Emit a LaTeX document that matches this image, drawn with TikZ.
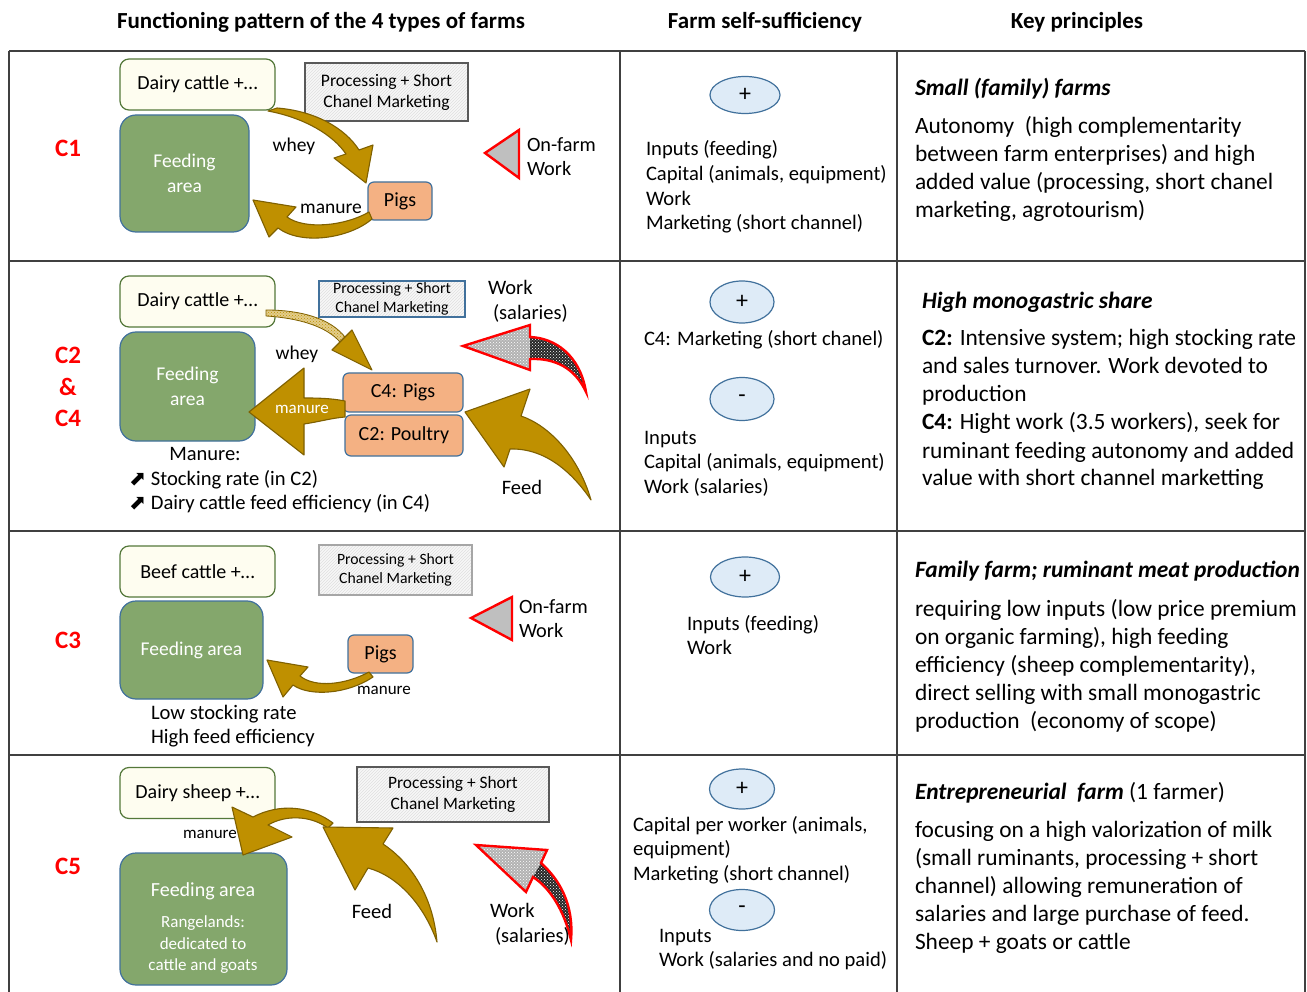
\documentclass[tikz,border=0pt]{standalone}
\usepackage{fontspec}
\setmainfont{Carlito}
\newfontfamily\dejavu{DejaVu Sans}
\usetikzlibrary{patterns,shapes.geometric}
\definecolor{arrowfill}{RGB}{191,144,0}
\definecolor{arrowdraw}{RGB}{127,96,0}
\definecolor{feedgreen}{RGB}{132,167,108}
\definecolor{boxblue}{RGB}{65,113,156}
\definecolor{pigfill}{RGB}{244,177,131}
\definecolor{dairyfill}{RGB}{254,253,240}
\definecolor{dairydraw}{RGB}{84,120,58}
\definecolor{ellfill}{RGB}{222,235,247}
\definecolor{gridcol}{RGB}{64,64,64}
\definecolor{labred}{RGB}{255,0,0}
\newcommand\fsz[2]{\fontsize{#1}{#2}\selectfont}
\newcommand\mylines[1]{\begin{tabular}[t]{@{}l@{}}#1\end{tabular}}
\newcommand\nearr{{\dejavu ⬈}}
\tikzset{
  gridline/.style={draw=gridcol, line width=2.4pt},
  dairy/.style={draw=dairydraw, fill=dairyfill, line width=1.2pt, rounded corners=9pt, minimum width=155pt, minimum height=51pt, font=\fsz{20}{24}},
  farea/.style={draw=boxblue, fill=feedgreen, line width=1.2pt, rounded corners=16pt, text=white},
  pig/.style={draw=boxblue, fill=pigfill, line width=1.2pt, rounded corners=6pt, font=\fsz{20}{24}},
  proc/.style={preaction={fill=gray!6}, pattern=north east lines, pattern color=gray!25, align=center},
  brown/.style={fill=arrowfill, draw=arrowdraw, line width=1.1pt, line join=round},
  brownlight/.style={preaction={fill=arrowfill!45!white}, pattern=crosshatch dots, pattern color=arrowfill, draw=arrowdraw, line width=0.8pt, line join=round},
  workhead/.style={preaction={fill=gray!60}, pattern=crosshatch dots, pattern color=white},
  workbody/.style={preaction={fill=black!85}, pattern=crosshatch dots, pattern color=white},
  workline/.style={draw=red, line width=2.4pt, line join=miter},
  onfarm/.style={fill=gray!50, draw=red, line width=2.4pt, line join=miter},
  ell/.style={ellipse, draw=boxblue, fill=ellfill, line width=1.2pt, font=\fsz{24}{26}},
  clab/.style={text=labred, font=\fsz{25}{29}\bfseries},
  head/.style={font=\fsz{23}{27}\bfseries, anchor=base},
  lab/.style={font=\fsz{19.5}{23}},
  smalllab/.style={font=\fsz{17}{20}},
  ctext/.style={font=\fsz{20.6}{24.6}, anchor=base west},
  ktext/.style={font=\fsz{23.4}{28}, anchor=base west},
  ktitle/.style={font=\fsz{23.4}{28}\bfseries\itshape, anchor=base west},
  every node/.style={inner sep=0pt, outer sep=0pt}
}
\begin{document}
\begin{tikzpicture}[x=1pt,y=-1pt]
\useasboundingbox (0,0) rectangle (1307,992);
\fill[white] (0,0) rectangle (1307,992);

% ---------- headers ----------
\node[head] (h1) at (321,29) {Functioning pattern of the 4 types of farms};
\node[head] (h2) at (765,29) {Farm self-sufficiency};
\node[head] (h3) at (1077,29) {Key principles};

% ---------- grid ----------
\draw[gridline] (9,51) -- (1305,51);
\draw[gridline] (9,261) -- (1305,261);
\draw[gridline] (9,531) -- (1305,531);
\draw[gridline] (9,755) -- (1305,755);
\draw[gridline] (9,51) -- (9,994);
\draw[gridline] (620,51) -- (620,994);
\draw[gridline] (897,51) -- (897,994);
\draw[gridline] (1305,51) -- (1305,994);

% ---------- row labels ----------
\node[clab] (c1) at (68,148) {C1};
\node[clab] (c2) at (68,355) {C2};
\node[clab] (c24) at (68,387) {\&};
\node[clab] (c4) at (68,418) {C4};
\node[clab] (c3) at (68,640) {C3};
\node[clab] (c5) at (68,866) {C5};

% ================= ROW C1 =================
\node[dairy] (d1) at (197.5,84.5) {Dairy cattle +…};
\node[farea, minimum width=129pt, minimum height=117pt, align=center, font=\fsz{19.5}{25}] (f1) at (184.5,173.5) {Feeding\\area};
\node[proc, draw=gray!70!black, line width=2.6pt, minimum width=163pt, minimum height=58pt, font=\fsz{17.6}{21}] (p1) at (386.5,92) {Processing + Short\\Chanel Marketing};
\node[pig, minimum width=64pt, minimum height=38pt] (g1) at (400,201) {Pigs};
% whey arrow
\filldraw[brown] (268,111) .. controls (305,118) and (333,135) .. (346,154) -- (334,158) -- (366,183) -- (373,145) -- (359,150) .. controls (345,128) and (315,111) .. (277,108) -- cycle;
% manure arrow
\filldraw[brown] (369,212) .. controls (345,226) and (305,230) .. (287,217) -- (296,207) -- (253,200) -- (269,237) -- (278,228) .. controls (302,246) and (350,238) .. (372,219) -- cycle;
\node[lab] (w1) at (294,146) {whey};
\node[lab] (m1) at (331,209) {manure};
\draw[onfarm] (485,153) -- (519,130) -- (519,178) -- cycle;
\node[font=\fsz{20.3}{24}, anchor=base west] (o1) at (527,152) {\mylines{On-farm\\Work}};

\node[ell, minimum width=70pt, minimum height=37pt] (e1) at (745,95) {+};
\node[ctext] (s1) at (646,156) {\mylines{Inputs (feeding)\\Capital (animals, equipment)\\Work\\Marketing (short channel)}};
\node[ktitle] (k1t) at (915,96) {Small (family) farms};
\node[ktext] (k1) at (915,134) {\mylines{Autonomy~ (high complementarity\\between farm enterprises) and high\\added value (processing, short chanel\\marketing, agrotourism)}};

% ================= ROW C2 & C4 =================
\node[dairy] (d2) at (197.5,301.5) {Dairy cattle +…};
\node[farea, minimum width=135pt, minimum height=109pt, align=center, font=\fsz{19.5}{25}] (f2) at (187.5,386.5) {Feeding\\area};
\node[proc, draw=boxblue, line width=1.2pt, minimum width=146pt, minimum height=36pt, font=\fsz{15.8}{19}] (p2) at (392,299) {Processing + Short\\Chanel Marketing};
\node[pig, minimum width=120pt, minimum height=39pt] (g2) at (403,392.5) {C4: Pigs};
\node[pig, minimum width=118pt, minimum height=41pt] (q2) at (404,435.5) {C2: Poultry};
% whey arrow (thin)
\filldraw[brownlight] (266,310) .. controls (300,310) and (330,318) .. (345,337) -- (340,342) .. controls (326,326) and (298,318) .. (266,316) -- cycle;
\filldraw[brown] (345,337) -- (352,330) -- (372,370) -- (332,350) -- (340,342) -- cycle;
% manure arrow (big)
\filldraw[brown] (345,401) .. controls (330,398) and (315,398) .. (304,398) -- (304,368) -- (249,412) -- (304,455) -- (304,424) .. controls (318,422) and (332,418) .. (345,417) -- cycle;
\node[text=white, font=\fsz{17}{20}] (m2) at (302,409) {manure};
% feed arrow
\filldraw[brown] (465,412) -- (530,389) -- (521,416) .. controls (548,425) and (578,455) .. (591,500) .. controls (572,472) and (545,448) .. (510,449) -- (504,467) -- cycle;
% work arrow
\fill[workhead] (463,346) -- (530,325) -- (530,370) -- cycle;
\fill[workbody] (530,337) .. controls (555,338) and (580,355) .. (586,392) .. controls (575,368) and (555,358) .. (530,359) -- cycle;
\draw[workline] (463,346) -- (530,325) -- (530,337) .. controls (555,338) and (580,355) .. (586,392) .. controls (575,368) and (555,358) .. (530,359) -- (530,370) -- cycle;
\node[lab] (w2) at (297,354) {whey};
\node[font=\fsz{20.5}{24}, anchor=base west] (wk2a) at (488,295) {Work};
\node[font=\fsz{20.5}{24}, anchor=base west] (wk2b) at (493,320) {(salaries)};
\node[font=\fsz{20.5}{24}] (fd2) at (522,487) {Feed};
\node[font=\fsz{20.5}{24}] (mn2) at (205,454) {Manure:};
\node[ctext] (mn2a) at (129,485) {\mylines{\nearr\ Stocking rate (in C2)\\\nearr\ Dairy cattle feed efficiency (in C4)}};

\node[ell, minimum width=64pt, minimum height=42pt] (e2p) at (742,302) {+};
\node[ctext] (s2a) at (644,345) {C4: Marketing (short chanel)};
\node[ell, minimum width=64pt, minimum height=43pt] (e2m) at (742,399) {-};
\node[ctext] (s2b) at (644,444) {\mylines{Inputs\\Capital (animals, equipment)\\Work (salaries)}};
\node[ktitle] (k2t) at (922,309) {High monogastric share};
\node[ktext] (k2) at (922,346) {\mylines{\textbf{C2:} Intensive system; high stocking rate\\and sales turnover. Work devoted to\\production\\\textbf{C4:} Hight work (3.5 workers), seek for\\ruminant feeding autonomy and added\\value with short channel marketting}};

% ================= ROW C3 =================
\node[dairy] (d3) at (197.5,571.5) {Beef cattle +…};
\node[farea, minimum width=143pt, minimum height=98pt, font=\fsz{19.5}{23}] (f3) at (191.5,650) {Feeding area};
\node[proc, draw=gray!70, line width=1.2pt, minimum width=153pt, minimum height=50pt, font=\fsz{15.7}{19.5}] (p3) at (395.5,570) {Processing + Short\\Chanel Marketing};
\node[pig, minimum width=65pt, minimum height=38pt] (g3) at (380.5,654) {Pigs};
\filldraw[brown] (369,672) .. controls (345,685) and (315,688) .. (300,676) -- (308,667) -- (267,660) -- (283,697) -- (293,685) .. controls (310,697) and (348,694) .. (373,677) -- cycle;
\node[smalllab] (m3) at (384,690) {manure};
\draw[onfarm] (471,618) -- (512,597) -- (512,640) -- cycle;
\node[font=\fsz{20.3}{24}, anchor=base west] (o3) at (519,613) {\mylines{On-farm\\Work}};
\node[ctext] (lo3) at (151,719) {\mylines{Low stocking rate\\High feed efficiency}};

\node[ell, minimum width=69pt, minimum height=40pt] (e3) at (745,577) {+};
\node[ctext] (s3) at (687,630) {\mylines{Inputs (feeding)\\Work}};
\node[ktitle] (k3t) at (915,577) {Family farm; ruminant meat production};
\node[ktext] (k3) at (915,616) {\mylines{requiring low inputs (low price premium\\on organic farming), high feeding\\efficiency (sheep complementarity),\\direct selling with small monogastric\\production~ (economy of scope)}};

% ================= ROW C5 =================
\node[dairy] (d4) at (197.5,793) {Dairy sheep +…};
\node[farea, minimum width=167pt, minimum height=132pt] (f4) at (203.5,919) {};
\node[text=white, font=\fsz{20}{22}] (f4a) at (203,891) {Feeding area};
\node[text=white, align=center, font=\fsz{17}{21.5}] (f4b) at (203,945) {Rangelands:\\dedicated to\\cattle and goats};
\node[proc, draw=gray!70!black, line width=2.6pt, minimum width=192pt, minimum height=55pt, font=\fsz{17.4}{21}] (p4) at (453,794.5) {Processing + Short\\Chanel Marketing};
% manure arrow
\filldraw[brown] (333,823) .. controls (310,806) and (280,803) .. (253,817) -- (232,807) -- (243,855) -- (292,837) -- (268,825) .. controls (285,815) and (310,815) .. (328,828) -- cycle;
% feed arrow
\filldraw[brown] (323,827) -- (393,828) -- (383,844) .. controls (410,862) and (433,895) .. (437,942) .. controls (424,905) and (398,876) .. (368,868) -- (355,890) -- cycle;
% work arrow
\fill[workhead] (476,845) -- (547,850) -- (526,892) -- cycle;
\fill[workbody] (541,863) .. controls (560,880) and (574,905) .. (571,940) .. controls (564,910) and (550,888) .. (533,877) -- cycle;
\draw[workline] (476,845) -- (547,850) -- (541,863) .. controls (560,880) and (574,905) .. (571,940) .. controls (564,910) and (550,888) .. (533,877) -- (526,892) -- cycle;
\node[smalllab] (m4) at (210,834) {manure};
\node[font=\fsz{20.5}{24}] (fd4) at (372,911) {Feed};
\node[font=\fsz{20.5}{24}, anchor=base west] (wk4a) at (490,917) {Work};
\node[font=\fsz{20.5}{24}, anchor=base west] (wk4b) at (495,942) {(salaries)};

\node[ell, minimum width=65pt, minimum height=40pt] (e4p) at (742,789) {+};
\node[ctext] (s4a) at (633,831) {\mylines{Capital per worker (animals,\\equipment)\\Marketing (short channel)}};
\node[ell, minimum width=65pt, minimum height=41pt] (e4m) at (742,910) {-};
\node[ctext] (s4b) at (659,942) {\mylines{Inputs\\Work (salaries and no paid)}};
\node[ktitle] (k4t) at (915,799) {Entrepreneurial~ farm \normalfont(1 farmer)};
\node[ktext] (k4) at (915,837) {\mylines{focusing on a high valorization of milk\\(small ruminants, processing + short\\channel) allowing remuneration of\\salaries and large purchase of feed.\\Sheep + goats or cattle}};
\end{tikzpicture}
\end{document}
